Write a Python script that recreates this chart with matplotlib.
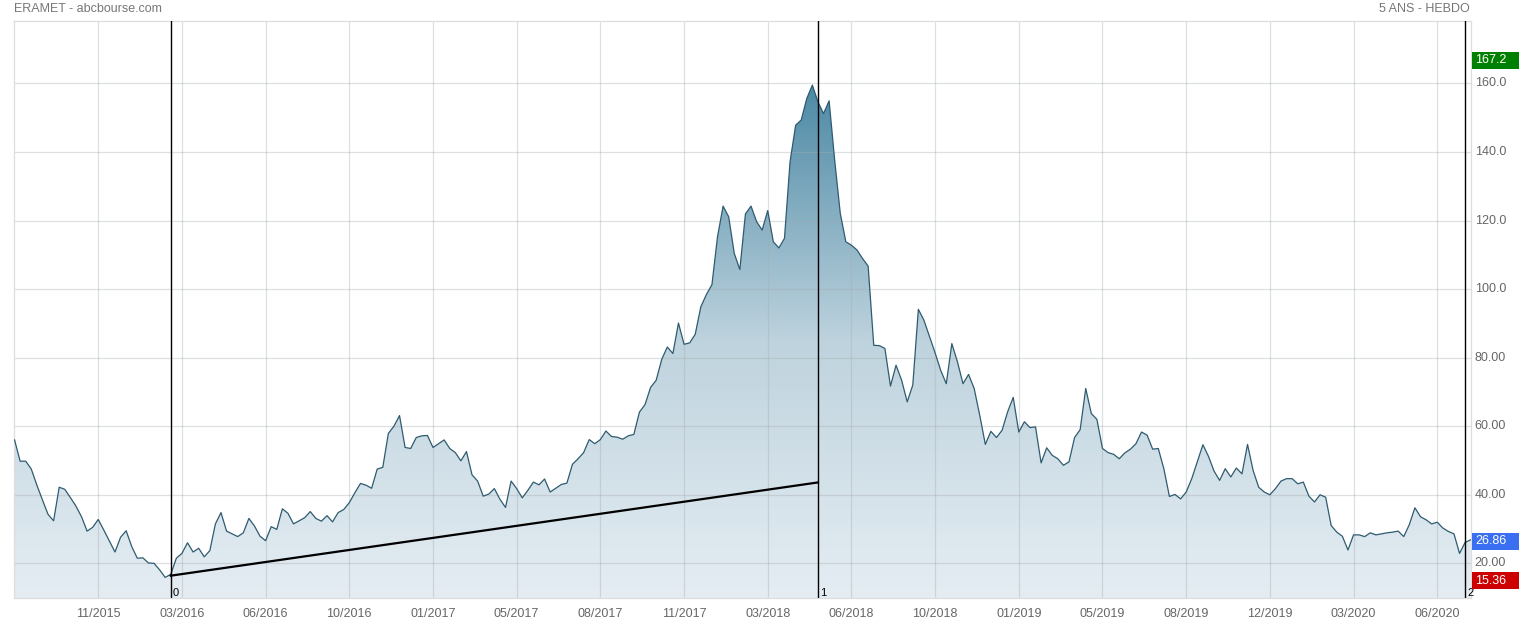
import matplotlib
matplotlib.use("Agg")
import matplotlib.pyplot as plt
import numpy as np
from matplotlib.colors import LinearSegmentedColormap
from matplotlib.patches import Rectangle
import matplotlib.transforms as mtransforms

plt.rcParams['font.family'] = ['Liberation Sans', 'DejaVu Sans']

# Weekly closing prices (5 years, weekly)
prices = [
    56.0, 49.8, 49.8, 47.5, 42.8, 38.5, 34.3, 32.4, 42.2, 41.6,
    39.2, 36.7, 33.6, 29.4, 30.5, 32.8, 29.7, 26.5, 23.3, 27.6,
    29.5, 24.9, 21.5, 21.6, 20.1, 20.0, 18.1, 15.9, 16.8, 21.5,
    22.9, 26.0, 23.3, 24.4, 21.9, 23.7, 31.5, 34.8, 29.4, 28.6,
    27.8, 28.9, 33.1, 30.9, 27.9, 26.6, 30.7, 29.9, 35.9, 34.6,
    31.5, 32.4, 33.3, 35.1, 33.1, 32.3, 33.9, 32.1, 34.8, 35.7,
    37.7, 40.6, 43.3, 42.8, 41.9, 47.5, 48.0, 57.9, 60.0, 63.1,
    53.8, 53.5, 56.7, 57.2, 57.3, 53.8, 54.9, 56.0, 53.5, 52.3,
    49.9, 52.6, 45.8, 44.0, 39.6, 40.2, 41.8, 38.7, 36.3, 44.0,
    41.8, 39.1, 41.3, 43.7, 42.9, 44.6, 40.8, 41.9, 43.0, 43.4,
    48.9, 50.5, 52.3, 56.1, 54.9, 56.1, 58.6, 57.0, 56.8, 56.2,
    57.2, 57.6, 64.1, 66.3, 71.3, 73.4, 79.5, 83.1, 81.2, 90.1,
    83.9, 84.3, 86.8, 94.8, 98.4, 101.3, 115.3, 124.2, 121.1, 110.4,
    105.7, 121.9, 124.2, 119.7, 117.2, 122.9, 113.8, 112.0, 114.8, 137.1,
    147.8, 149.3, 155.6, 159.5, 154.6, 151.2, 154.9, 137.6, 122.1, 113.8,
    112.8, 111.4, 108.9, 106.7, 83.6, 83.5, 82.7, 71.7, 77.8, 73.4,
    67.1, 72.0, 94.1, 90.9, 86.1, 81.4, 76.3, 72.4, 84.1, 78.8,
    72.4, 75.1, 71.0, 63.2, 54.7, 58.5, 56.7, 58.8, 64.2, 68.4,
    58.3, 61.3, 59.6, 59.8, 49.3, 53.7, 51.5, 50.5, 48.6, 49.6,
    56.7, 59.0, 71.0, 63.7, 62.0, 53.5, 52.3, 51.8, 50.5, 52.2,
    53.3, 54.9, 58.3, 57.4, 53.3, 53.5, 47.6, 39.5, 40.1, 38.8,
    40.8, 44.7, 49.6, 54.6, 51.2, 46.9, 44.2, 47.6, 45.2, 47.8,
    46.1, 54.7, 47.1, 42.2, 40.8, 40.0, 41.8, 44.0, 44.7, 44.7,
    43.2, 43.7, 39.6, 37.9, 40.0, 39.3, 31.0, 29.1, 27.9, 23.9,
    28.3, 28.3, 27.8, 28.9, 28.3, 28.6, 28.9, 29.1, 29.4, 27.8,
    31.3, 36.2, 33.6, 32.7, 31.5, 32.0, 30.3, 29.3, 28.6, 22.9,
    26.1, 26.86,
]

# x-axis tick positions (week index) and labels
tick_weeks = [15, 30, 45, 60, 75, 90, 105, 120, 135, 150, 165, 180, 195, 210, 225, 240, 255]
tick_labels = ["11/2015", "03/2016", "06/2016", "10/2016", "01/2017", "05/2017", "08/2017",
               "11/2017", "03/2018", "06/2018", "10/2018", "01/2019", "05/2019", "08/2019",
               "12/2019", "03/2020", "06/2020"]

y_ticks = [20, 40, 60, 80, 100, 120, 140, 160]
y_tick_labels = ["20.00", "40.00", "60.00", "80.00", "100.0", "120.0", "140.0", "160.0"]

# markers (vertical lines) and trend line
marker_weeks = [28, 144, 260]
marker_labels = ["0", "1", "2"]
trend_weeks = [28, 144]
trend_values = [16.4, 43.6]

# side value boxes
box_values = [167.2, 26.86, 15.36]
box_texts = ["167.2", "26.86", "15.36"]
box_colors = ["#008000", "#3b6ff2", "#cc0000"]

W, H = 1519, 624
fig = plt.figure(figsize=(W / 100, H / 100), dpi=100)
left, right, top, bottom = 14, 1470.7, 21, 598.3
ax = fig.add_axes([left / W, 1 - bottom / H, (right - left) / W, (bottom - top) / H])

x = np.arange(len(prices))
y = np.array(prices)
ymin, ymax = 9.8, 178.2
ax.set_xlim(-0.1, 261.0)
ax.set_ylim(ymin, ymax)

# gradient fill
cmap = LinearSegmentedColormap.from_list("g", ["#e5edf3", "#bed3de", "#4c89a5"])
grad = np.linspace(0, 1, 256).reshape(-1, 1)
peak = 160.0
im = ax.imshow(grad, extent=[x[0], x[-1], ymin, peak], origin="lower", aspect="auto",
               cmap=cmap, zorder=1, interpolation="bilinear")
poly = ax.fill_between(x, y, ymin, color="none", zorder=1)
path = poly.get_paths()[0]
im.set_clip_path(path, transform=ax.transData)

# grid on top of the fill
for t in tick_weeks:
    ax.axvline(t, color="#a8acae", alpha=0.38, lw=0.9, zorder=2)
for v in y_ticks:
    ax.axhline(v, color="#a8acae", alpha=0.38, lw=0.9, zorder=2)

ax.plot(x, y, color="#2f5b70", lw=0.9, zorder=3)

# markers
for w, lab in zip(marker_weeks, marker_labels):
    ax.axvline(w, color="black", lw=1.0, zorder=4)
    ax.annotate(lab, xy=(w, ymin), xytext=(2, 0), textcoords="offset pixels",
                fontsize=8, color="black", ha="left", va="bottom", zorder=5)
ax.plot(trend_weeks, trend_values, color="black", lw=1.6, zorder=4)

# axes styling
ax.set_xticks([])
ax.set_yticks([])
for s in ax.spines.values():
    s.set_color("#dddddd")
    s.set_linewidth(0.9)

trans_x = mtransforms.blended_transform_factory(ax.transData, ax.transAxes)
for t, lab in zip(tick_weeks, tick_labels):
    ax.text(t, -0.027, lab, transform=trans_x, ha="center", va="center",
            fontsize=9, color="#666666")

trans_y = mtransforms.blended_transform_factory(ax.transAxes, ax.transData)
for v, lab in zip(y_ticks, y_tick_labels):
    ax.text(1.0 + 4 / (right - left), v, lab, transform=trans_y, ha="left", va="center",
            fontsize=9, color="#666666", clip_on=False)

# side value boxes
px_h = (ymax - ymin) / (bottom - top)
for v, lab, c in zip(box_values, box_texts, box_colors):
    x0 = 1 + 1.5 / (right - left)
    wbox = 47.5 / (right - left)
    yc = v - 1.5 * px_h
    rect = Rectangle((x0, yc - 8.5 * px_h), wbox, 17 * px_h, transform=trans_y,
                     facecolor=c, edgecolor="none", clip_on=False, zorder=6)
    ax.add_patch(rect)
    ax.text(x0 + 3 / (right - left), yc, lab, transform=trans_y, ha="left", va="center",
            fontsize=9, color="white", clip_on=False, zorder=7)

fig.text(14 / W, 1 - 9 / H, "ERAMET - abcbourse.com", ha="left", va="center",
         fontsize=9, color="#777777")
fig.text(1470 / W, 1 - 9 / H, "5 ANS - HEBDO", ha="right", va="center",
         fontsize=9, color="#777777")

fig.savefig("out.png", dpi=100, facecolor="white")
